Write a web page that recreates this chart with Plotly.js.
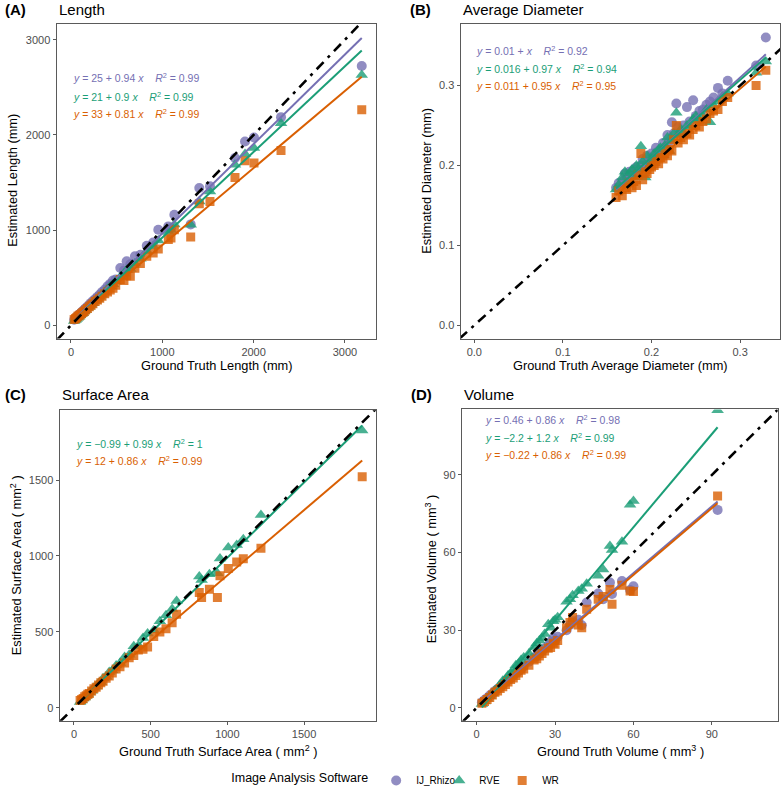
<!DOCTYPE html>
<html>
<head>
<meta charset="utf-8">
<script src="https://cdn.plot.ly/plotly-3.0.1.min.js"></script>
<style>html,body{margin:0;padding:0;background:#fff;}#chart{width:782px;height:795px;}</style>
</head>
<body>
<div id="chart"></div>
<script>
// ---------- DATA ----------
const seriesNames = ['IJ_Rhizo', 'RVE', 'WR'];

// (A) Length (mm)
const lenX   = [35, 50, 62, 75, 88, 100, 115, 130, 145, 160, 180, 200, 220, 240, 265, 290, 315, 340, 370, 400, 430, 460, 490, 540, 580, 610, 650, 700, 760, 830, 900, 956, 1066, 1095, 1132, 1311, 1405, 1522, 1796, 1906, 2004, 2300, 3184];
const lenIJ  = [58, 70, 85, 96, 110, 120, 135, 150, 162, 178, 195, 215, 235, 255, 275, 300, 322, 350, 375, 410, 435, 470, 480, 602, 575, 672, 640, 724, 740, 836, 870, 1004, 1039, 1020, 1162, 1060, 1442, 1460, 1757, 1931, 1973, 2187, 2724];
const lenRVE = [45, 55, 65, 78, 90, 105, 120, 130, 148, 160, 180, 195, 215, 230, 255, 275, 300, 320, 350, 380, 410, 430, 460, 510, 545, 580, 590, 650, 700, 780, 830, 890, 980, 1000, 1060, 1057, 1300, 1406, 1686, 1800, 1862, 2124, 2630];
const lenWR  = [60, 70, 80, 95, 100, 110, 120, 135, 145, 160, 175, 195, 210, 225, 250, 265, 285, 305, 330, 350, 370, 390, 420, 480, 470, 520, 514, 600, 650, 724, 760, 800, 900, 917, 1004, 928, 1277, 1301, 1553, 1728, 1704, 1836, 2264];
const lenIntercept = [25, 21, 33];
const lenSlope     = [0.94, 0.9, 0.81];
const lenR2        = ['0.99', '0.99', '0.99'];

// (B) Average diameter (mm)
const diaX   = [0.160, 0.163, 0.167, 0.170, 0.172, 0.175, 0.178, 0.180, 0.183, 0.185, 0.188, 0.190, 0.193, 0.195, 0.198, 0.200, 0.203, 0.205, 0.208, 0.210, 0.213, 0.215, 0.218, 0.220, 0.223, 0.225, 0.228, 0.230, 0.233, 0.236, 0.240, 0.243, 0.247, 0.250, 0.254, 0.258, 0.262, 0.266, 0.270, 0.275, 0.280, 0.286, 0.318, 0.329];
const diaIJ  = [0.172, 0.178, 0.180, 0.190, 0.185, 0.192, 0.188, 0.195, 0.198, 0.190, 0.200, 0.208, 0.200, 0.212, 0.205, 0.215, 0.210, 0.222, 0.218, 0.214, 0.228, 0.222, 0.238, 0.230, 0.254, 0.240, 0.2775, 0.248, 0.242, 0.250, 0.273, 0.255, 0.2816, 0.262, 0.268, 0.270, 0.276, 0.280, 0.285, 0.297, 0.290, 0.306, 0.325, 0.360];
const diaRVE = [0.170, 0.176, 0.185, 0.192, 0.178, 0.190, 0.195, 0.185, 0.200, 0.195, 0.224, 0.205, 0.185, 0.212, 0.200, 0.208, 0.215, 0.210, 0.220, 0.222, 0.212, 0.225, 0.235, 0.218, 0.232, 0.240, 0.266, 0.238, 0.245, 0.240, 0.250, 0.248, 0.258, 0.262, 0.256, 0.262, 0.270, 0.254, 0.275, 0.280, 0.286, 0.290, 0.316, 0.330];
const diaWR  = [0.160, 0.168, 0.162, 0.172, 0.170, 0.178, 0.172, 0.180, 0.175, 0.188, 0.215, 0.182, 0.192, 0.190, 0.195, 0.198, 0.200, 0.205, 0.202, 0.210, 0.208, 0.215, 0.212, 0.220, 0.218, 0.232, 0.250, 0.228, 0.235, 0.232, 0.240, 0.238, 0.245, 0.250, 0.248, 0.255, 0.258, 0.265, 0.268, 0.270, 0.280, 0.285, 0.300, 0.319];
const diaIntercept = [0.01, 0.016, 0.011];
const diaSlope     = [1, 0.97, 0.95];
const diaR2        = ['0.92', '0.94', '0.95'];

// (C) Surface area (mm^2)  (no IJ_Rhizo values)
const saX   = [40, 50, 60, 70, 80, 90, 100, 115, 130, 145, 160, 175, 190, 210, 230, 250, 275, 300, 330, 360, 390, 420, 450, 480, 520, 560, 600, 640, 669, 817, 832, 883, 935, 952, 1006, 1061, 1104, 1219, 1879];
const saRVE = [38, 48, 62, 68, 80, 88, 100, 112, 132, 140, 162, 170, 195, 205, 235, 245, 278, 295, 335, 350, 405, 410, 460, 490, 510, 570, 610, 650, 704, 864, 842, 880, 886, 983, 1055, 1072, 1110, 1270, 1827];
const saWR  = [48, 55, 62, 72, 80, 90, 95, 110, 125, 135, 150, 165, 175, 195, 210, 230, 255, 270, 295, 330, 345, 380, 385, 400, 470, 500, 520, 560, 616, 760, 726, 781, 726, 870, 917, 960, 981, 1051, 1522];
const saIntercept = [null, -0.99, 12];
const saSlope     = [null, 0.99, 0.86];
const saR2        = [null, '1', '0.99'];

// (D) Volume (mm^3)
const volX   = [2, 3, 4, 5, 6, 7, 8, 9, 10, 11, 12, 13, 14, 15, 16, 17, 18, 20, 22, 23, 24, 25, 26, 27.4, 28.3, 29.3, 30, 31, 34.4, 35.7, 36.7, 38.9, 40.2, 42.1, 46.5, 48.4, 51, 51.8, 55.6, 58.7, 60, 92.2];
const volIJ  = [2.2, 3.0, 3.8, 4.8, 5.5, 6.5, 7.3, 8.0, 9.2, 10.0, 10.8, 11.5, 12.6, 13.5, 14.2, 15.0, 16.0, 17.8, 19.5, 20.0, 21.0, 22.0, 23.0, 24.0, 25.5, 27.0, 26.0, 27.5, 30.0, 32.0, 33.5, 34.0, 31.9, 40.7, 44.2, 42.0, 48.4, 44.0, 49.0, 45.5, 47.0, 76.5];
const volRVE = [1.5, 2.5, 3.5, 4.5, 5.5, 6.8, 7.5, 9.0, 10.5, 11.0, 12.5, 13.5, 14.5, 16.5, 17.0, 18.5, 19.5, 21.0, 23.5, 25.0, 26.0, 27.0, 28.5, 32.3, 31.0, 33.5, 34.0, 35.0, 41.0, 42.0, 43.5, 45.2, 46.0, 48.0, 51.0, 53.5, 62.5, 61.0, 64.2, 78.5, 79.9, 115.0];
const volWR  = [1.8, 2.5, 3.2, 4.0, 5.0, 6.0, 6.5, 7.5, 8.2, 9.0, 10.0, 11.0, 11.5, 12.5, 13.5, 14.5, 15.0, 16.5, 18.5, 19.0, 20.0, 21.0, 22.0, 23.0, 23.3, 25.0, 24.6, 26.0, 31.0, 33.0, 34.9, 32.0, 31.0, 38.1, 42.0, 43.0, 45.7, 40.0, 47.4, 45.2, 45.0, 81.9];
const volIntercept = [0.46, -2.2, -0.22];
const volSlope     = [0.86, 1.2, 0.86];
const volR2        = ['0.98', '0.99', '0.99'];

// ---------- STYLE ----------
const FONT = 'Liberation Sans, Arial, Helvetica, sans-serif';
const colors  = ['#7570B3', '#1B9E77', '#D95F02'];
const symbols = ['circle', 'triangle-up', 'square'];
const msizes  = [10, 11, 9];

const panels = [
  { key: 'A', name: 'Length', x: lenX, ys: [lenIJ, lenRVE, lenWR], ic: lenIntercept, sl: lenSlope, r2: lenR2,
    xr: [-153, 3340], yr: [-140, 3166], xt: [0, 1000, 2000, 3000], yt: [0, 1000, 2000, 3000], fmt: 'd',
    xd: [57/782, 376/782], yd: [1 - 339/795, 1 - 24/795],
    eqx: 0.044, eqy: [0.829, 0.771, 0.714],
    xtitle: 'Ground Truth Length (mm)', ytitle: 'Estimated Length (mm)' },
  { key: 'B', name: 'Average Diameter', x: diaX, ys: [diaIJ, diaRVE, diaWR], ic: diaIntercept, sl: diaSlope, r2: diaR2,
    xr: [-0.015, 0.345], yr: [-0.0166, 0.377], xt: [0, 0.1, 0.2, 0.3], yt: [0, 0.1, 0.2, 0.3], fmt: '.1f',
    xd: [461/782, 780/782], yd: [1 - 339/795, 1 - 24/795],
    eqx: 0.041, eqy: [0.917, 0.860, 0.803],
    xtitle: 'Ground Truth Average Diameter (mm)', ytitle: 'Estimated Diameter (mm)' },
  { key: 'C', name: 'Surface Area', x: saX, ys: [null, saRVE, saWR], ic: saIntercept, sl: saSlope, r2: saR2,
    xr: [-91, 1969], yr: [-85.5, 1960], xt: [0, 500, 1000, 1500], yt: [0, 500, 1000, 1500], fmt: 'd',
    xd: [60/782, 376/782], yd: [1 - 721.7/795, 1 - 410.7/795],
    eqx: 0.044, eqy: [null, 0.893, 0.837],
    xtitle: 'Ground Truth Surface Area ( mm<sup>2</sup> )', ytitle: 'Estimated Surface Area ( mm<sup>2</sup> )' },
  { key: 'D', name: 'Volume', x: volX, ys: [volIJ, volRVE, volWR], ic: volIntercept, sl: volSlope, r2: volR2,
    xr: [-5.5, 115.2], yr: [-5.0, 115.3], xt: [0, 30, 60, 90], yt: [0, 30, 60, 90], fmt: 'd',
    xd: [462.3/782, 777.7/782], yd: [1 - 721.7/795, 1 - 410/795],
    eqx: 0.067, eqy: [0.968, 0.911, 0.855],
    xtitle: 'Ground Truth Volume ( mm<sup>3</sup> )', ytitle: 'Estimated Volume ( mm<sup>3</sup> )' }
];

// axis title positions (pixels) and panel label positions
const titlePos = {
  A: { xt: [217, 366], yt: [13, 181], lab: [3, 10], nm: [57, 10] },
  B: { xt: [620, 366], yt: [427, 181], lab: [408, 10], nm: [461, 10] },
  C: { xt: [218, 752], yt: [16, 566], lab: [3, 395], nm: [60, 395] },
  D: { xt: [620, 752], yt: [431, 570], lab: [409, 395], nm: [462, 395] }
};

const W = 782, H = 795;
const px = v => v / W, py = v => 1 - v / H;
const NB = '\u00A0';
const fmtNum = v => String(v).replace('-', '\u2212');

const traces = [];
const annotations = [];
const layout = {
  width: W, height: H,
  margin: { l: 0, r: 0, t: 0, b: 0 },
  paper_bgcolor: '#ffffff', plot_bgcolor: '#ffffff',
  font: { family: FONT, color: '#000' },
  showlegend: true,
  legend: {
    orientation: 'h', x: 0.508, xanchor: 'center', y: 1 - 781/795, yanchor: 'middle',
    font: { family: FONT, size: 10, color: '#000' },
    title: { text: 'Image Analysis Software', side: 'left', font: { family: FONT, size: 12.5, color: '#000' } },
    itemwidth: 30, traceorder: 'normal', entrywidth: 18, entrywidthmode: 'pixels'
  },
  annotations: annotations
};

const legendShown = [false, false, false];

panels.forEach((p, i) => {
  const n = i + 1;
  const xa = n === 1 ? 'x' : 'x' + n;
  const ya = n === 1 ? 'y' : 'y' + n;
  const xk = n === 1 ? 'xaxis' : 'xaxis' + n;
  const yk = n === 1 ? 'yaxis' : 'yaxis' + n;
  const axCommon = {
    showgrid: false, zeroline: false, showline: true, mirror: true, linecolor: '#5a5a5a', linewidth: 1,
    ticks: 'outside', ticklen: 3.5, tickwidth: 1, tickcolor: '#5a5a5a',
    tickfont: { family: FONT, size: 11, color: '#4D4D4D' }, tickformat: p.fmt, fixedrange: true
  };
  layout[xk] = Object.assign({}, axCommon, { domain: p.xd, range: p.xr, tickvals: p.xt, anchor: ya });
  layout[yk] = Object.assign({}, axCommon, { domain: p.yd, range: p.yr, tickvals: p.yt, anchor: xa });

  // points
  p.ys.forEach((ys, s) => {
    if (!ys) return;
    traces.push({
      type: 'scatter', mode: 'markers', x: p.x, y: ys, xaxis: xa, yaxis: ya,
      name: seriesNames[s], legendgroup: seriesNames[s],
      showlegend: !legendShown[s],
      marker: { symbol: symbols[s], size: msizes[s], color: colors[s], opacity: 0.8, line: { width: 0 } },
      cliponaxis: true, hoverinfo: 'skip'
    });
    legendShown[s] = true;
  });
  // regression lines
  const xmin = Math.min(...p.x), xmax = Math.max(...p.x);
  p.ys.forEach((ys, s) => {
    if (!ys) return;
    traces.push({
      type: 'scatter', mode: 'lines', x: [xmin, xmax],
      y: [p.ic[s] + p.sl[s] * xmin, p.ic[s] + p.sl[s] * xmax],
      xaxis: xa, yaxis: ya, showlegend: false, legendgroup: seriesNames[s],
      line: { color: colors[s], width: 2 }, hoverinfo: 'skip'
    });
  });
  // identity line (1:1)
  const lo = Math.min(p.xr[0], p.yr[0]), hi = Math.max(p.xr[1], p.yr[1]);
  traces.push({
    type: 'scatter', mode: 'lines', x: [lo, hi], y: [lo, hi], xaxis: xa, yaxis: ya,
    showlegend: false, line: { color: '#000', width: 2.6, dash: '10px,6px,3px,6px' }, hoverinfo: 'skip'
  });
  // equations
  p.ys.forEach((ys, s) => {
    if (!ys) return;
    const slopeTxt = p.sl[s] === 1 ? '' : fmtNum(p.sl[s]) + NB;
    const txt = '<i>y</i>' + NB + '=' + NB + fmtNum(p.ic[s]) + NB + '+' + NB + slopeTxt + '<i>x</i>' +
                NB + NB + NB + NB + '<i>R</i><sup>2</sup>' + NB + '=' + NB + p.r2[s];
    annotations.push({
      xref: xa + ' domain', yref: ya + ' domain', x: p.eqx, y: p.eqy[s],
      xanchor: 'left', yanchor: 'middle', showarrow: false, text: txt,
      font: { family: FONT, size: 10.5, color: colors[s] }
    });
  });
  // titles
  const tp = titlePos[p.key];
  annotations.push({ xref: 'paper', yref: 'paper', x: px(tp.lab[0]), y: py(tp.lab[1]), xanchor: 'left', yanchor: 'middle',
    showarrow: false, text: '<b>(' + p.key + ')</b>', font: { family: FONT, size: 15, color: '#000' } });
  annotations.push({ xref: 'paper', yref: 'paper', x: px(tp.nm[0]), y: py(tp.nm[1]), xanchor: 'left', yanchor: 'middle',
    showarrow: false, text: p.name, font: { family: FONT, size: 15, color: '#000' } });
  annotations.push({ xref: 'paper', yref: 'paper', x: px(tp.xt[0]), y: py(tp.xt[1]), xanchor: 'center', yanchor: 'middle',
    showarrow: false, text: p.xtitle, font: { family: FONT, size: 12.8, color: '#000' } });
  annotations.push({ xref: 'paper', yref: 'paper', x: px(tp.yt[0]), y: py(tp.yt[1]), xanchor: 'center', yanchor: 'middle',
    showarrow: false, textangle: -90, text: p.ytitle, font: { family: FONT, size: 12.8, color: '#000' } });
});

Plotly.newPlot('chart', traces, layout, { displayModeBar: false, staticPlot: true });
</script>
</body>
</html>
